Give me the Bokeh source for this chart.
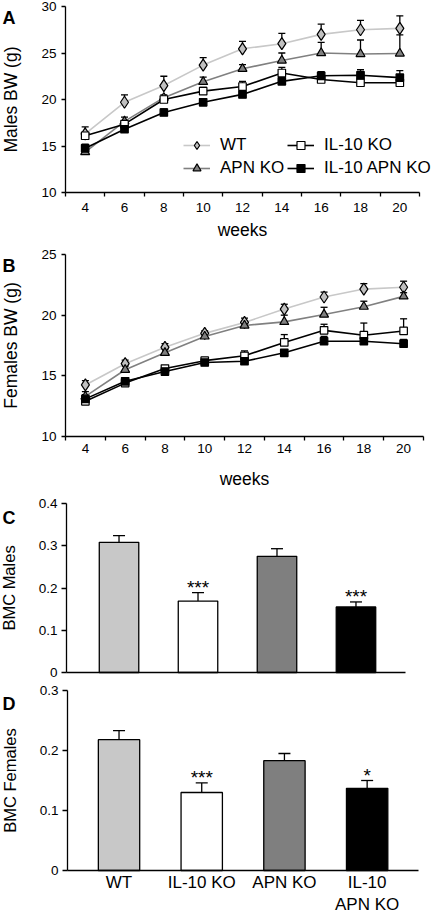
from bokeh.plotting import figure
from bokeh.layouts import column
from bokeh.models import (ColumnDataSource, Whisker, TeeHead, Legend, LegendItem,
                          FixedTicker, Label, Range1d, NumeralTickFormatter)
from bokeh.embed import file_html
from bokeh.resources import INLINE
from bokeh.core.properties import value

FONT = "Liberation Sans"

# ---------------- data ----------------
weeks = [4, 6, 8, 10, 12, 14, 16, 18, 20]

males_wt = [16.3, 19.7, 21.5, 23.7, 25.45, 26.0, 27.0, 27.5, 27.65]
males_wt_err = [0.75, 0.8, 1.0, 0.8, 0.8, 1.1, 1.1, 1.0, 1.35]
males_apn = [14.35, 17.65, 20.2, 21.9, 23.3, 24.2, 25.0, 24.9, 24.95]
males_apn_err = [0.25, 0.45, 0.3, 0.5, 0.45, 0.8, 1.15, 1.5, 2.0]
males_il10 = [16.1, 17.35, 20.0, 20.9, 21.4, 22.85, 22.15, 21.8, 21.8]
males_il10_err = [0.3, 0.3, 0.3, 0.4, 0.55, 0.6, 0.3, 0.3, 0.3]
males_dko = [14.75, 16.8, 18.6, 19.7, 20.55, 21.95, 22.55, 22.6, 22.35]
males_dko_err = [0.45, 0.35, 0.4, 0.4, 0.35, 0.35, 0.45, 0.6, 0.75]

females_wt = [14.25, 16.0, 17.35, 18.5, 19.4, 20.5, 21.5, 22.15, 22.3]
females_wt_err = [0.35, 0.3, 0.3, 0.2, 0.35, 0.4, 0.4, 0.45, 0.5]
females_apn = [13.3, 15.5, 16.9, 18.25, 19.15, 19.45, 20.05, 20.7, 21.55]
females_apn_err = [0.4, 0.3, 0.3, 0.2, 0.3, 0.55, 0.6, 0.45, 0.3]
females_il10 = [12.9, 14.4, 15.6, 16.25, 16.65, 17.75, 18.75, 18.35, 18.7]
females_il10_err = [0.2, 0.2, 0.2, 0.2, 0.4, 0.65, 0.5, 1.0, 1.0]
females_dko = [13.1, 14.55, 15.35, 16.1, 16.2, 16.9, 17.85, 17.85, 17.65]
females_dko_err = [0.35, 0.2, 0.15, 0.15, 0.15, 0.2, 0.4, 0.2, 0.35]

groups = ["WT", "IL-10 KO", "APN KO", "IL-10\nAPN KO"]
bar_colors = ["#c8c8c8", "#ffffff", "#7f7f7f", "#000000"]
bmc_males = [0.308, 0.169, 0.275, 0.155]
bmc_males_err = [0.016, 0.020, 0.018, 0.012]
bmc_males_stars = ["", "***", "", "***"]
bmc_females = [0.218, 0.130, 0.183, 0.137]
bmc_females_err = [0.015, 0.016, 0.012, 0.013]
bmc_females_stars = ["", "***", "", "*"]

# series style: (label, line colour, marker, fill, size)
series_style = [
    ("WT", "#c8c8c8", "diamond", "#c0c0c0", 12),
    ("APN KO", "#808080", "triangle", "#808080", 9),
    ("IL-10 KO", "#000000", "square", "#ffffff", 7.5),
    ("IL-10 APN KO", "#000000", "square", "#000000", 7.5),
]

W = 438  # canvas width; every plot frame fills its whole canvas


def x_span(lo, hi, px_lo, px_hi):
    """x data range so that lo / hi land at the given canvas pixels"""
    s = (px_hi - px_lo) / (hi - lo)
    return (lo - px_lo / s, hi + (W - px_hi) / s)


def y_span(lo, hi, px_lo, px_hi, H):
    """y data range so that lo / hi land at the given pixels from the canvas top"""
    s = (px_lo - px_hi) / (hi - lo)
    return (lo - (H - px_lo) / s, hi + px_hi / s)


def base_fig(height, xr, yr, ylab_size="17.5px"):
    p = figure(width=W, height=height, x_range=Range1d(*xr), y_range=Range1d(*yr),
               output_backend="svg", toolbar_location=None,
               min_border_left=0, min_border_right=0,
               min_border_top=0, min_border_bottom=0)
    p.grid.visible = False
    p.outline_line_color = None
    p.background_fill_color = "white"
    p.border_fill_color = "white"
    for ax in (p.xaxis[0], p.yaxis[0]):
        ax.axis_line_color = "black"
        ax.axis_line_width = 1.3
        ax.major_tick_line_color = "black"
        ax.major_tick_line_width = 1.3
        ax.minor_tick_line_color = None
        ax.major_label_text_font = FONT
        ax.major_label_text_font_size = "13.5px"
        ax.major_label_text_color = "black"
        ax.axis_label_text_font = FONT
        ax.axis_label_text_font_size = "17.5px"
        ax.axis_label_text_font_style = "normal"
        ax.axis_label_text_color = "black"
    p.yaxis[0].axis_label_text_font_size = ylab_size
    return p


def panel_letter(p, text, x, y):
    p.add_layout(Label(x=x, y=y, text=text, text_font=FONT, text_font_style="bold",
                       text_font_size="18px", text_baseline="alphabetic",
                       text_align="left", text_color="black"))


def weight_panel(data, ylabel, xr, yr, ybounds, yticks, height, x_standoff, lab_standoff, legend):
    p = base_fig(height, xr, yr)
    ya = p.yaxis[0]
    ya.fixed_location = 3
    ya.bounds = ybounds
    ya.ticker = FixedTicker(ticks=yticks)
    ya.major_tick_in = 0
    ya.major_tick_out = 4
    ya.major_label_standoff = 5
    ya.axis_label = ylabel
    ya.axis_label_standoff = 17
    xa = p.xaxis[0]
    xa.fixed_location = ybounds[0]
    xa.bounds = (3, 21)
    xa.ticker = FixedTicker(ticks=weeks,
                            minor_ticks=[w - 1 for w in weeks] + [weeks[-1] + 1])
    xa.major_tick_in = 0
    xa.major_tick_out = 0
    xa.minor_tick_in = 0
    xa.minor_tick_out = 4
    xa.minor_tick_line_color = "black"
    xa.minor_tick_line_width = 1.3
    xa.major_label_standoff = x_standoff
    xa.axis_label = "weeks"
    xa.axis_label_standoff = lab_standoff

    rends = []
    for (vals, errs), (lab, lc, mk, fc, sz) in zip(data, series_style):
        src = ColumnDataSource(dict(x=weeks, y=vals,
                                    top=[v + e for v, e in zip(vals, errs)]))
        p.add_layout(Whisker(source=src, base="x", lower="y", upper="top",
                             dimension="height", line_color="black", line_width=1.3,
                             upper_head=TeeHead(size=7, line_color="black", line_width=1.3),
                             lower_head=None))
        l = p.line("x", "y", source=src, line_color=lc, line_width=1.6)
        s = p.scatter("x", "y", source=src, marker=mk, size=sz,
                      fill_color=fc, line_color="black", line_width=1.2)
        rends.append((lab, l, s))

    if legend:
        common = dict(background_fill_alpha=0, border_line_alpha=0, padding=0, margin=0,
                      spacing=3, glyph_width=27, glyph_height=20, label_height=20,
                      label_standoff=10, label_text_font=FONT, label_text_font_size="17px",
                      label_text_color="black")
        leg1 = Legend(items=[LegendItem(label=rends[0][0], renderers=[rends[0][1], rends[0][2]]),
                             LegendItem(label=rends[1][0], renderers=[rends[1][1], rends[1][2]])],
                      location=(183, 48 + 14), **common)
        leg2 = Legend(items=[LegendItem(label=rends[2][0], renderers=[rends[2][1], rends[2][2]]),
                             LegendItem(label=rends[3][0], renderers=[rends[3][1], rends[3][2]])],
                      location=(287, 48 + 14), **common)
        p.add_layout(leg1)
        p.add_layout(leg2)
    return p


def bmc_panel(vals, errs, stars, ylabel, xr, xbounds, yr, ybounds, yticks, height, show_labels):
    p = base_fig(height, xr, yr, ylab_size="16.5px")
    idx = list(range(len(groups)))
    tops = [v + e for v, e in zip(vals, errs)]
    src = ColumnDataSource(dict(x=idx, y=vals, top=tops, color=bar_colors, stars=stars))
    p.add_layout(Whisker(source=src, base="x", lower="y", upper="top",
                         dimension="height", line_color="black", line_width=1.3,
                         upper_head=TeeHead(size=12, line_color="black", line_width=1.3),
                         lower_head=None))
    p.vbar(x="x", top="y", bottom=0, width=0.5, source=src, fill_color="color",
           line_color="black", line_width=1.3)
    p.text(x="x", y="top", text="stars", source=src, text_font=value(FONT),
           text_font_size="19px", text_align="center", text_baseline="alphabetic",
           text_color="black", y_offset=-5)
    ya = p.yaxis[0]
    ya.fixed_location = xbounds[0]
    ya.bounds = ybounds
    ya.ticker = FixedTicker(ticks=yticks)
    ya.formatter = NumeralTickFormatter(format="0.[0]")
    ya.major_tick_in = 0
    ya.major_tick_out = 5
    ya.major_label_standoff = 4
    ya.axis_label = ylabel
    ya.axis_label_standoff = 18
    xa = p.xaxis[0]
    xa.fixed_location = ybounds[0]
    xa.bounds = xbounds
    xa.major_tick_in = 0
    xa.major_tick_out = 0
    if show_labels:
        xa.ticker = FixedTicker(ticks=idx)
        xa.major_label_overrides = {i: g for i, g in zip(idx, groups)}
        xa.major_label_text_font_size = "17px"
        xa.major_label_standoff = 2
    else:
        xa.ticker = FixedTicker(ticks=[])
        xa.major_label_standoff = 0
    return p


# ---- panel A: canvas 240 tall (page 0..240) ----
xA = x_span(3, 21, 65, 419)
yA = y_span(10, 30, 192, 6, 240)
pA = weight_panel([(males_wt, males_wt_err), (males_apn, males_apn_err),
                   (males_il10, males_il10_err), (males_dko, males_dko_err)],
                  "Males BW (g)", xA, yA, (10, 30), [10, 15, 20, 25, 30],
                  height=240, x_standoff=6, lab_standoff=5, legend=True)
sxA = (419 - 65) / 18
syA = (192 - 6) / 20
panel_letter(pA, "A", xA[0] + 2 / sxA, yA[1] - 17 / syA)

# ---- panel B: canvas 250 tall (page 240..490) ----
xB = x_span(3, 21, 65, 423)
yB = y_span(10, 25, 196, 14, 250)
pB = weight_panel([(females_wt, females_wt_err), (females_apn, females_apn_err),
                   (females_il10, females_il10_err), (females_dko, females_dko_err)],
                  "Females BW (g)", xB, yB, (10, 25), [10, 15, 20, 25],
                  height=250, x_standoff=3, lab_standoff=13, legend=False)
sxB = (423 - 65) / 18
syB = (196 - 14) / 15
panel_letter(pB, "B", xB[0] + 2 / sxB, yB[1] - 25 / syB)

# ---- panel C: canvas 190 tall (page 490..680) ----
xC = x_span(-0.665, 3.627, 66, 405)
yC = y_span(0, 0.4, 182, 13, 190)
pC = bmc_panel(bmc_males, bmc_males_err, bmc_males_stars, "BMC Males",
               xC, (-0.665, 3.627), yC, (0, 0.4), [0, 0.1, 0.2, 0.3, 0.4],
               height=190, show_labels=False)
sxC = (405 - 66) / (3.627 + 0.665)
syC = (182 - 13) / 0.4
panel_letter(pC, "C", xC[0] + 2 / sxC, yC[1] - 27 / syC)

# ---- panel D: canvas 236 tall (page 680..916) ----
xD = x_span(-0.623, 3.621, 67, 418)
yD = y_span(0, 0.3, 190, 10, 236)
pD = bmc_panel(bmc_females, bmc_females_err, bmc_females_stars, "BMC Females",
               xD, (-0.623, 3.621), yD, (0, 0.3), [0, 0.1, 0.2, 0.3],
               height=236, show_labels=True)
sxD = (418 - 67) / (3.621 + 0.623)
syD = (190 - 10) / 0.3
panel_letter(pD, "D", xD[0] + 2 / sxD, yD[1] - 23 / syD)

layout = column(pA, pB, pC, pD)
open("out.html", "w").write(file_html(layout, INLINE))
